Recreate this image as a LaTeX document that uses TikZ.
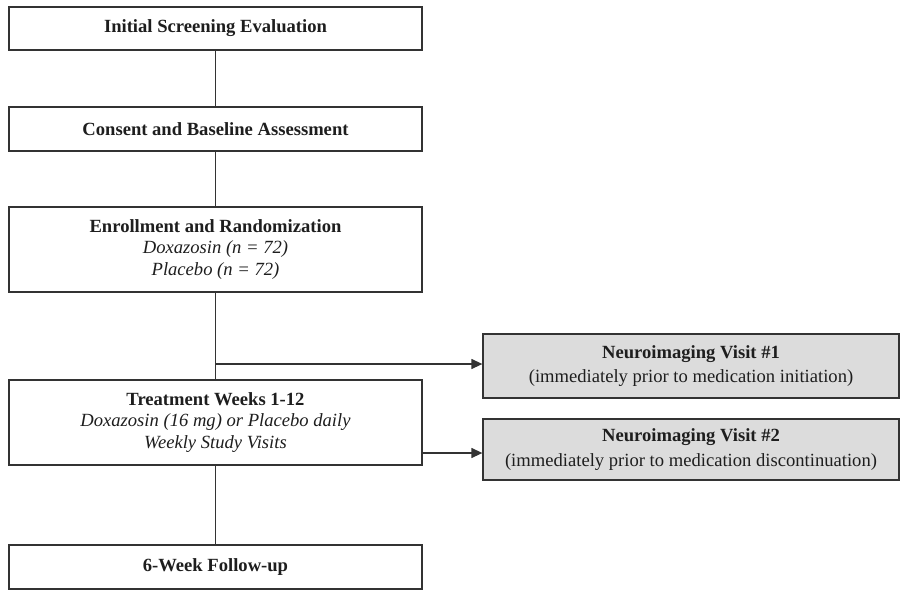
\documentclass[tikz,border=0pt]{standalone}
\usepackage{fontspec}
\setmainfont{Liberation Serif}
\usetikzlibrary{arrows.meta}
\definecolor{linegray}{HTML}{333333}
\definecolor{fillgray}{HTML}{DCDCDC}
\definecolor{txt}{HTML}{1E1E1E}
\tikzset{
  stagebox/.style={draw=linegray, line width=1.3pt, fill=white, text=txt,
    minimum width=413pt, align=center, inner sep=0pt,
    font=\fontsize{18.6}{21.5}\selectfont},
  imgbox/.style={draw=linegray, line width=1.3pt, fill=fillgray, text=txt,
    minimum width=416pt, align=center, inner sep=0pt,
    font=\fontsize{18.6}{24.5}\selectfont},
  link/.style={draw=linegray, line width=1.3pt},
  arrowlink/.style={link, -{Triangle[length=11pt,width=10pt]}}
}
\begin{document}
\begin{tikzpicture}[x=1pt,y=-1pt]
\useasboundingbox (0,0) rectangle (901,591);
\node[stagebox, minimum height=43pt] (b1) at (215.5,28.5) {\textbf{Initial Screening Evaluation}};
\node[stagebox, minimum height=44pt] (b2) at (215.5,129) {\textbf{Consent and Baseline Assessment}};
\node[stagebox, minimum height=85pt] (b3) at (215.5,249.5) {\textbf{Enrollment and Randomization}\\\textit{Doxazosin (n = 72)}\\\textit{Placebo (n = 72)}};
\node[stagebox, minimum height=85pt] (b4) at (215.5,422.5) {\textbf{Treatment Weeks 1-12}\\\textit{Doxazosin (16 mg) or Placebo daily}\\\textit{Weekly Study Visits}};
\node[stagebox, minimum height=44pt] (b5) at (215.5,567) {\textbf{6-Week Follow-up}};
\node[imgbox, minimum height=64pt] (n1) at (691,366) {\textbf{Neuroimaging Visit \#1}\\(immediately prior to medication initiation)};
\node[imgbox, minimum height=61pt] (n2) at (691,449.5) {\textbf{Neuroimaging Visit \#2}\\(immediately prior to medication discontinuation)};
\draw[link] (b1.south) -- (b2.north);
\draw[link] (b2.south) -- (b3.north);
\draw[link] (b3.south) -- (b4.north);
\draw[link] (b4.south) -- (b5.north);
\coordinate (j1) at (215.5,364);
\draw[arrowlink] (j1) -- (j1 -| n1.west);
\coordinate (j2) at ([yshift=-30.5pt]b4.east);
\draw[arrowlink] (j2) -- (j2 -| n2.west);
\end{tikzpicture}
\end{document}
